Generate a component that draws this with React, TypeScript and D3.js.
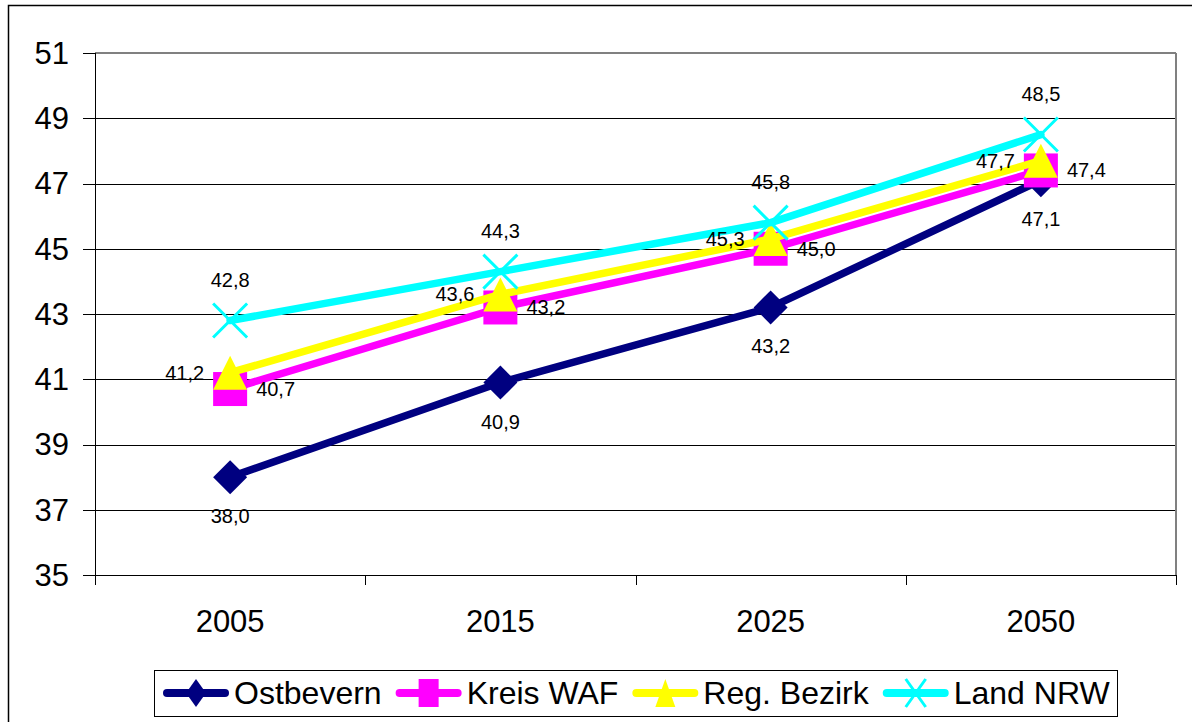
import React, { useEffect } from "react";
import * as d3 from "d3";

const years = ["2005", "2015", "2025", "2050"];
const ostbevern = [38.0, 40.9, 43.2, 47.1];
const kreisWaf = [40.7, 43.2, 45.0, 47.4];
const regBezirk = [41.2, 43.6, 45.3, 47.7];
const landNrw = [42.8, 44.3, 45.8, 48.5];
const yTicks = [35, 37, 39, 41, 43, 45, 47, 49, 51];
const seriesNames = ["Ostbevern", "Kreis WAF", "Reg. Bezirk", "Land NRW"];

const W = 1192;
const H = 722;
const FONT = "'Liberation Sans', Arial, sans-serif";
const PLOT = { left: 95, right: 1176, top: 53, bottom: 575 };

type Marker = "diamond" | "square" | "triangle" | "x";
type LabelPos = "below" | "right" | "left" | "above";

const series: { name: string; values: number[]; color: string; marker: Marker; label: LabelPos }[] = [
  { name: seriesNames[0], values: ostbevern, color: "#000080", marker: "diamond", label: "below" },
  { name: seriesNames[1], values: kreisWaf, color: "#FF00FF", marker: "square", label: "right" },
  { name: seriesNames[2], values: regBezirk, color: "#FFFF00", marker: "triangle", label: "left" },
  { name: seriesNames[3], values: landNrw, color: "#00FFFF", marker: "x", label: "above" },
];

function markerEl(kind: Marker, cx: number, cy: number, color: string, hw: number, hh: number, key?: string) {
  if (kind === "diamond") {
    const p = `M${cx},${cy - hh}L${cx + hw},${cy}L${cx},${cy + hh}L${cx - hw},${cy}Z`;
    return <path key={key} d={p} fill={color} />;
  }
  if (kind === "square") {
    return <rect key={key} x={cx - hw} y={cy - hh} width={hw * 2} height={hh * 2} fill={color} />;
  }
  if (kind === "triangle") {
    const p = `M${cx},${cy - hh}L${cx + hw},${cy + hh}L${cx - hw},${cy + hh}Z`;
    return <path key={key} d={p} fill={color} />;
  }
  const p = `M${cx - hw},${cy - hh}L${cx + hw},${cy + hh}M${cx + hw},${cy - hh}L${cx - hw},${cy + hh}`;
  return <path key={key} d={p} stroke={color} strokeWidth={3} fill="none" />;
}

function measure(text: string, font: string): number {
  const c = document.createElement("canvas");
  const ctx = c.getContext("2d");
  if (!ctx) return text.length * 16;
  ctx.font = font;
  return ctx.measureText(text).width;
}

export default function App() {
  useEffect(() => {
    document.body.style.margin = "0";
  }, []);

  const x = d3.scaleBand<string>().domain(years).range([PLOT.left, PLOT.right]);
  const y = d3.scaleLinear().domain([35, 51]).range([PLOT.bottom, PLOT.top]);
  const cx = (d: string) => (x(d) as number) + x.bandwidth() / 2;
  const fmt = (v: number) => v.toFixed(1).replace(".", ",");

  const line = d3
    .line<number>()
    .x((_, i) => cx(years[i]))
    .y((v) => y(v));

  // legend layout
  const legFont = `32px ${FONT}`;
  const sampleW = 66;
  let lx = 163;
  const legItems = series.map((s) => {
    const tw = measure(s.name, legFont);
    const item = { s, x0: lx, tx: lx + sampleW + 5, tw };
    lx = lx + sampleW + 5 + tw + 14;
    return item;
  });
  const legLeft = 154;
  const legRight = Math.max(1117, lx - 14 + 4);
  const legTop = 670;
  const legBottom = 716;
  const legCy = (legTop + legBottom) / 2;

  const boundaries = [...years.map((d) => x(d) as number), PLOT.right];

  return (
    <svg
      width={W}
      height={H}
      style={{ position: "absolute", left: 0, top: 0, background: "#fff" }}
      fontFamily={FONT}
    >
      <rect x={0} y={0} width={W} height={H} fill="#fff" />
      <rect x={8.5} y={5.5} width={1300} height={800} fill="none" stroke="#000" strokeWidth={1.5} />

      {/* gridlines */}
      {yTicks.slice(1, -1).map((t) => (
        <line key={"g" + t} x1={PLOT.left} x2={PLOT.right} y1={Math.round(y(t)) + 0.5} y2={Math.round(y(t)) + 0.5} stroke="#000" strokeWidth={1} />
      ))}
      {/* plot border top/right */}
      <line x1={PLOT.left} x2={PLOT.right} y1={PLOT.top} y2={PLOT.top} stroke="#808080" strokeWidth={2} />
      <line x1={PLOT.right} x2={PLOT.right} y1={PLOT.top} y2={PLOT.bottom} stroke="#808080" strokeWidth={2} />

      {/* y axis */}
      <line x1={PLOT.left + 0.5} x2={PLOT.left + 0.5} y1={PLOT.top} y2={PLOT.bottom} stroke="#000" strokeWidth={1} />
      {yTicks.map((t) => (
        <g key={"yt" + t}>
          <line x1={83} x2={PLOT.left} y1={Math.round(y(t)) + 0.5} y2={Math.round(y(t)) + 0.5} stroke="#000" strokeWidth={1} />
          <text x={69} y={y(t)} dy="0.35em" textAnchor="end" fontSize={31} fill="#000">
            {t}
          </text>
        </g>
      ))}

      {/* x axis */}
      <line x1={PLOT.left} x2={PLOT.right} y1={PLOT.bottom + 0.5} y2={PLOT.bottom + 0.5} stroke="#000" strokeWidth={1} />
      {boundaries.map((b, i) => (
        <line key={"xt" + i} x1={Math.round(b) + 0.5} x2={Math.round(b) + 0.5} y1={PLOT.bottom} y2={PLOT.bottom + 10} stroke="#000" strokeWidth={1} />
      ))}
      {years.map((d) => (
        <text key={"xl" + d} x={cx(d)} y={632} textAnchor="middle" fontSize={31} fill="#000">
          {d}
        </text>
      ))}

      {/* series */}
      {series.map((s) => (
        <g key={s.name}>
          <path d={line(s.values) || ""} fill="none" stroke={s.color} strokeWidth={7.5} strokeLinejoin="round" strokeLinecap="round" />
          {s.values.map((v, i) => markerEl(s.marker, cx(years[i]), y(v), s.color, 17, 17, s.name + i))}
        </g>
      ))}

      {/* data labels */}
      {series.map((s) =>
        s.values.map((v, i) => {
          const px = cx(years[i]);
          const py = y(v);
          let tx = px;
          let ty = py;
          let anchor: "middle" | "start" | "end" = "middle";
          if (s.label === "below") ty = py + 39;
          else if (s.label === "above") ty = py - 41;
          else if (s.label === "right") {
            tx = px + 26;
            anchor = "start";
          } else {
            tx = px - 26;
            anchor = "end";
          }
          return (
            <text key={"l" + s.name + i} x={tx} y={ty} dy="0.35em" textAnchor={anchor} fontSize={20} fill="#000">
              {fmt(v)}
            </text>
          );
        })
      )}

      {/* legend */}
      <rect x={legLeft + 0.5} y={legTop + 0.5} width={legRight - legLeft} height={legBottom - legTop} fill="#fff" stroke="#000" strokeWidth={1} />
      {legItems.map(({ s, x0, tx }) => (
        <g key={"leg" + s.name}>
          <line x1={x0 + 4} x2={x0 + sampleW - 4} y1={legCy} y2={legCy} stroke={s.color} strokeWidth={8} strokeLinecap="round" />
          {markerEl(s.marker, x0 + sampleW / 2, legCy, s.color, 10, 14)}
          <text x={tx} y={legCy} dy="0.35em" fontSize={32} fill="#000">
            {s.name}
          </text>
        </g>
      ))}
    </svg>
  );
}
